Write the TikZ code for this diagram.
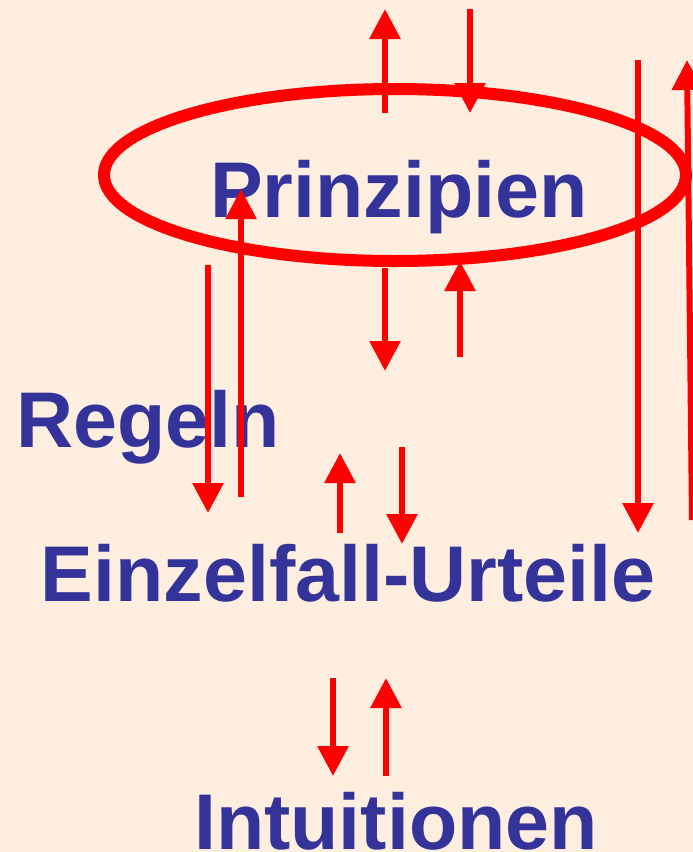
\documentclass[tikz,border=0pt]{standalone}
\usepackage{fontspec}
\setmainfont{Liberation Sans}
\usetikzlibrary{arrows.meta}
\definecolor{bg}{HTML}{FDEEE0}
\definecolor{txt}{HTML}{333399}
\definecolor{arr}{HTML}{FF0000}
\begin{document}
\begin{tikzpicture}[x=1pt,y=-1pt,
  lbl/.style={anchor=base,inner sep=0pt,text=txt,font=\fontsize{79}{80}\selectfont\bfseries},
  arrline/.style={draw=arr,line width=6pt,-{Triangle[width=30pt,length=30pt]}},
  ring/.style={draw=arr,line width=12pt}]
\fill[bg] (0,0) rectangle (693,852);
\useasboundingbox (0,0) rectangle (693,852);
% ellipse
\draw[ring] (395,175) ellipse [x radius=291, y radius=86];
% labels
\node[lbl] (prin) at (399,217) {Prinzipien};
\node[lbl] (reg) at (148,447) {Regeln};
\node[lbl] (einz) at (348,601) {Einzelfall-Urteile};
\node[lbl] (intu) at (396,849) {Intuitionen};
% coordinates
\coordinate (a1s) at (385,113); \coordinate (a1e) at (385,9);
\coordinate (a2s) at (470,9);   \coordinate (a2e) at (470,113);
\coordinate (a3s) at (638,60);  \coordinate (a3e) at (638,533);
\coordinate (a4s) at (692,520); \coordinate (a4e) at (687,60);
\coordinate (a5s) at (208,265); \coordinate (a5e) at (208,513);
\coordinate (a6s) at (241,497); \coordinate (a6e) at (241,189);
\coordinate (a7s) at (385,268); \coordinate (a7e) at (385,371);
\coordinate (a8s) at (460,357); \coordinate (a8e) at (460,261);
\coordinate (a9s) at (340,533); \coordinate (a9e) at (340,453);
\coordinate (a10s) at (402,447); \coordinate (a10e) at (402,544);
\coordinate (a11s) at (333,678); \coordinate (a11e) at (333,776);
\coordinate (a12s) at (386,776); \coordinate (a12e) at (386,678);
\foreach \i in {1,...,12} {\draw[arrline] (a\i s) -- (a\i e);}
\end{tikzpicture}
\end{document}
